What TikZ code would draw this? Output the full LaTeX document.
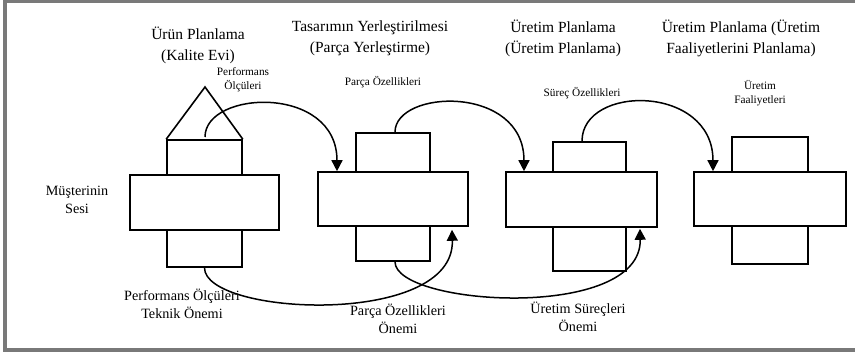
\documentclass[tikz,border=0pt]{standalone}
\usepackage{fontspec}
\setmainfont{Liberation Serif}
\usetikzlibrary{arrows.meta,calc}
\begin{document}
\begin{tikzpicture}[x=1pt,y=-1pt,
  box/.style={draw,line width=1.6pt,inner sep=0pt,fill=white},
  conn/.style={line width=1.5pt},
  arr/.style={conn,-{Triangle[width=11pt,length=11pt]}},
  title/.style={align=center,inner sep=0pt,font=\fontsize{15.5}{21}\selectfont},
  small/.style={align=center,inner sep=0pt,font=\fontsize{11.3}{14}\selectfont},
  lab/.style={align=center,inner sep=0pt,font=\fontsize{14.2}{18}\selectfont}]
\useasboundingbox (0,0) rectangle (855,355);
\draw[line width=4pt,color=gray!95!black] (5,1.5) rectangle (870,350);
% titles
\node[title] (t1) at (198,45) {Ürün Planlama\\(Kalite Evi)};
\node[title] (t2) at (370,38) {Tasarımın Yerleştirilmesi\\(Parça Yerleştirme)};
\node[title] (t3) at (563,38) {Üretim Planlama\\(Üretim Planlama)};
\node[title] (t4) at (741,38) {Üretim Planlama (Üretim\\Faaliyetlerini Planlama)};
% unit 1
\coordinate (apex) at (205,87);
\node[box,minimum width=75pt,minimum height=35pt] (b1t) at (204.5,157.5) {};
\node[box,minimum width=75pt,minimum height=37pt] (b1b) at (204.5,248.5) {};
\node[box,minimum width=149pt,minimum height=55pt] (b1) at (204.5,202.5) {};
\draw[line width=1.6pt,line join=miter] (b1t.north west) -- (apex) -- (b1t.north east);
\coordinate (s1) at (205,137);
% unit 2
\node[box,minimum width=74pt,minimum height=39pt] (b2t) at (393,152.5) {};
\node[box,minimum width=74pt,minimum height=35pt] (b2b) at (393,243.5) {};
\node[box,minimum width=150pt,minimum height=54pt] (b2) at (393,199) {};
% unit 3
\node[box,minimum width=73pt,minimum height=30pt] (b3t) at (589.5,157) {};
\node[box,minimum width=73pt,minimum height=44pt] (b3b) at (589.5,249) {};
\node[box,minimum width=151pt,minimum height=55pt] (b3) at (581.5,199.5) {};
% unit 4
\node[box,minimum width=76pt,minimum height=35pt] (b4t) at (770,154.5) {};
\node[box,minimum width=76pt,minimum height=38pt] (b4b) at (770,245) {};
\node[box,minimum width=152pt,minimum height=54pt] (b4) at (770,199) {};
% upper arrows
\draw[arr] (s1) .. controls +(0,-47) and +(0,-87) .. ([xshift=-56pt]b2.north);
\draw[arr] ([xshift=2pt]b2t.north) .. controls +(0,-43) and +(0,-87) .. ([xshift=-57.5pt]b3.north);
\draw[arr] ([xshift=-7.5pt]b3t.north) .. controls +(0,-57) and +(0,-87) .. ([xshift=-57pt]b4.north);
% lower arrows
\draw[arr] (b1b.south) .. controls +(0,48) and +(3,98) .. ([xshift=59pt,yshift=-3pt]b2.south);
\draw[arr] ([xshift=2pt]b2b.south) .. controls +(0,44) and +(2,93) .. ([xshift=58.5pt,yshift=-1pt]b3.south);
% labels
\node[small] (l1) at (243,80) {Performans\\Ölçüleri};
\node[small] (l2) at (383,82) {Parça Özellikleri};
\node[small] (l3) at (582,93) {Süreç Özellikleri};
\node[small] (l4) at (760,93) {Üretim\\Faaliyetleri};
\node[lab] (l5) at (77,200) {Müşterinin\\Sesi};
\node[lab] (l6) at (182,304) {Performans Ölçüleri\\Teknik Önemi};
\node[lab] (l7) at (398,319) {Parça Özellikleri\\Önemi};
\node[lab] (l8) at (578,317) {Üretim Süreçleri\\Önemi};
\end{tikzpicture}
\end{document}
